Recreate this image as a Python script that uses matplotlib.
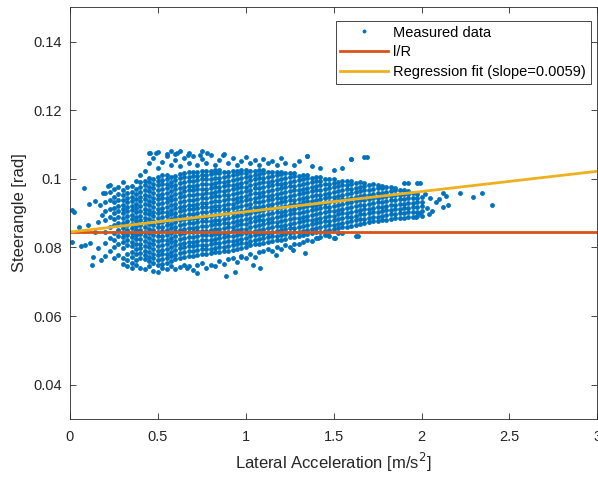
import numpy as np
import matplotlib.pyplot as plt

plt.rcParams['font.family'] = ['Liberation Sans', 'DejaVu Sans']

# measured data, read off the picture as columns: x position and the y values
# found in that column (units of 1e-4 rad)
col_x = [0.200, 0.225, 0.250, 0.275, 0.300, 0.325, 0.350, 0.375, 0.400, 0.425,
         0.450, 0.475, 0.500, 0.525, 0.550, 0.575, 0.600, 0.625, 0.650, 0.675,
         0.700, 0.725, 0.750, 0.775, 0.800, 0.825, 0.850, 0.875, 0.900, 0.925,
         0.950, 0.975, 1.000, 1.025, 1.050, 1.075, 1.100, 1.125, 1.150, 1.175,
         1.200, 1.225, 1.250, 1.275, 1.300, 1.325, 1.350, 1.375, 1.400, 1.425,
         1.450, 1.475, 1.500, 1.525, 1.550, 1.575, 1.600, 1.625, 1.650, 1.675,
         1.700, 1.725, 1.750, 1.775, 1.800, 1.825, 1.850, 1.875, 1.900, 1.925,
         1.950, 1.975, 2.000]
col_y = [
    "776 812 845 880 905 932 958",
    "790 828 861 889 912 937 962 981",
    "768 801 823 841 866 884 899 916 931 947 970",
    "779 810 832 852 871 890 905 921 938 955 975",
    "752 770 798 815 829 842 858 871 886 899 912 925 938 952 966 990",
    "745 763 782 806 822 836 850 864 878 892 905 918 931 944 958 975",
    "740 756 772 788 804 817 830 843 856 869 882 895 908 921 934 947 962 980",
    "748 764 780 796 811 824 837 850 863 876 889 902 915 928 941 955 970 993",
    "741 770 784 797 811 825 838 852 866 879 893 906 920 934 947 961 975 990 1011",
    "736 765 778 791 805 818 832 845 859 873 886 900 913 927 940 954 968 981 995 1024",
    "745 760 773 787 800 814 828 841 855 868 882 896 909 923 936 950 963 977 990 1002 1046 1075",
    "731 756 769 782 796 810 823 837 850 864 877 891 904 918 932 945 959 972 986 1000 1061",
    "728 750 764 777 791 804 818 832 845 859 872 886 899 913 927 940 954 967 981 994 1006 1031 1078",
    "741 753 766 780 793 807 821 834 848 861 875 888 902 916 929 943 956 970 984 997 1010 1050",
    "736 755 769 782 796 809 823 837 850 864 877 891 904 918 932 945 959 972 986 999 1011 1071",
    "745 761 774 788 801 815 828 842 856 869 883 896 910 923 937 951 964 978 991 1004 1041 1081",
    "738 766 779 793 806 820 833 847 861 874 888 901 915 928 942 956 969 983 996 1009 1056 1072",
    "742 770 784 797 811 824 838 852 865 879 892 906 919 933 947 960 974 987 1001 1014 1036",
    "750 773 787 800 814 827 841 855 868 882 895 909 922 936 950 963 977 990 1004 1017 1061",
    "745 776 789 803 816 830 844 857 871 884 898 911 925 939 952 966 979 993 1006 1019 1046 1076",
    "735 776 790 803 817 830 844 858 871 885 898 912 925 939 953 966 980 993 1007 1020 1066",
    "748 779 792 806 819 833 847 860 874 887 901 914 928 942 955 969 982 996 1009 1021 1041",
    "755 781 794 808 822 835 849 862 876 889 903 917 930 944 957 971 984 998 1011 1022 1059 1080",
    "740 781 795 808 822 835 849 863 876 890 903 917 930 944 958 971 985 998 1012 1024 1046",
    "750 783 796 810 823 837 851 864 878 891 905 918 932 946 959 973 986 1000 1013 1024 1068",
    "745 786 799 813 826 840 854 867 881 894 908 921 935 949 962 976 989 1003 1016 1025 1041",
    "760 786 800 813 827 840 854 868 881 895 908 922 935 949 963 976 990 1003 1017 1025 1056",
    "752 789 802 816 829 843 857 870 884 897 911 924 938 952 965 979 992 1006 1019 1071",
    "765 791 804 818 832 845 859 872 886 899 913 927 940 954 967 981 994 1008 1021 1046",
    "770 793 806 820 833 847 861 874 888 901 915 928 942 956 969 983 996 1010 1023 1061",
    "758 796 809 823 836 850 864 877 891 904 918 931 945 959 972 986 999 1013 1024 1041",
    "775 799 812 826 839 853 867 880 894 907 921 934 948 962 975 989 1002 1016 1025 1051",
    "770 801 814 828 842 855 869 882 896 909 923 937 950 964 977 991 1004 1018 1025 1063",
    "781 806 819 833 846 860 873 887 901 914 928 941 955 968 982 996 1009 1023 1046",
    "772 809 822 836 849 863 877 890 904 917 931 944 958 972 985 999 1012 1024 1056",
    "786 811 824 838 852 865 879 892 906 919 933 947 960 974 987 1001 1014 1025 1041",
    "791 813 827 840 854 867 881 895 908 922 935 949 962 976 990 1003 1017 1025 1059",
    "796 816 829 843 856 870 884 897 911 924 938 951 965 979 992 1006 1020 1046",
    "789 819 832 846 859 873 887 900 914 927 941 954 968 982 995 1009 1021 1051",
    "801 821 834 848 862 875 889 902 916 929 943 957 970 984 997 1011 1020 1041",
    "796 823 836 850 863 877 891 904 918 931 945 958 972 986 999 1013 1020 1061",
    "806 826 839 853 866 880 894 907 921 934 948 961 975 989 1002 1016 1046",
    "801 829 842 856 869 883 897 910 924 937 951 964 978 992 1005 1017",
    "811 831 844 858 871 885 899 912 926 939 953 966 980 994 1007 1016 1041",
    "809 833 846 860 873 887 901 914 928 941 955 968 982 996 1009 1053",
    "816 836 849 863 876 890 904 917 931 944 958 971 985 999 1011",
    "821 839 852 866 879 893 907 920 934 947 961 974 988 1001 1010 1067",
    "819 841 854 868 881 895 909 922 936 949 963 976 990 1003 1036",
    "828 844 857 871 884 898 912 925 939 952 966 979 993 1006",
    "831 846 859 873 886 900 914 927 941 954 968 981 995 1005 1031",
    "837 849 862 876 889 903 917 930 944 957 971 984 998",
    "834 851 864 878 891 905 919 932 946 959 973 986 1000",
    "828 853 866 880 893 907 921 934 948 961 975 988 1000 1026",
    "841 856 869 883 896 910 924 937 951 964 978 991",
    "843 859 872 886 899 913 927 940 954 967 981 995 1031",
    "861 874 888 901 915 929 942 956 969 983 995",
    "863 876 890 903 917 931 944 958 971 985 995 1057",
    "834 866 879 893 906 920 934 947 961 974 988",
    "869 882 896 909 923 937 950 964 977 990",
    "871 884 898 911 925 939 952 966 979 988 1063",
    "873 886 900 913 927 941 954 968 981",
    "876 889 903 916 930 944 957 971 984",
    "877 890 904 917 931 945 958 972 982",
    "879 892 906 919 933 947 960 974 980",
    "881 894 908 921 935 949 962 976",
    "883 896 910 923 937 951 964 975",
    "885 898 912 925 939 953 966 972",
    "886 899 913 926 940 954 967",
    "887 900 914 927 941 955 968 988",
    "889 902 916 929 943 957 965",
    "890 903 917 930 944 958",
    "891 904 918 931 945 955 988",
    "893 906 920 933 947",
]

# scattered single points outside the dense cloud
extra_x = [0.01, 0.01, 0.024, 0.05, 0.062, 0.08, 0.085, 0.10, 0.11, 0.114,
           0.125, 0.13, 0.14, 0.145, 0.157, 0.16, 0.17, 0.174, 0.185, 0.19,
           0.216,
           0.455, 0.49, 0.55, 0.606, 0.625, 0.672, 0.74, 0.777, 0.87,
           0.663, 0.72, 0.89, 0.94, 1.04, 1.08, 0.975, 1.17, 1.27, 1.335,
           1.35, 1.6, 1.69, 1.41, 1.47, 1.51, 1.64,
           1.92, 1.97, 1.99, 1.99, 2.02, 2.03, 2.04, 2.05, 2.06, 2.08, 2.10,
           2.12, 2.12, 2.14, 2.15, 2.216, 2.29, 2.345, 2.40]
extra_y = [0.0910, 0.0815, 0.0904, 0.0860, 0.0804, 0.0972, 0.0807, 0.0865, 0.0926, 0.0813,
           0.0750, 0.0772, 0.0935, 0.0845, 0.0874, 0.0798, 0.0925, 0.0763, 0.0895, 0.0958,
           0.0980,
           0.1075, 0.1075, 0.1066, 0.1074, 0.1081, 0.1069, 0.1069, 0.1074, 0.1069,
           0.0739, 0.0725, 0.0717, 0.0729, 0.0749, 0.0740, 0.0773, 0.0778, 0.0792, 0.0784,
           0.1067, 0.1057, 0.1063, 0.0827, 0.0836, 0.0827, 0.0833,
           0.0988, 0.0889, 0.0900, 0.0988, 0.0955, 0.0915, 0.0898, 0.0945, 0.0905, 0.0933, 0.0940,
           0.0958, 0.0918, 0.0950, 0.0923, 0.0958, 0.0946, 0.0959, 0.0923]

ir_value = 0.0845        # l/R steer angle
fit_intercept = 0.0845
fit_slope = 0.0059
x_line = np.array([0.0, 3.0])

# collect the measured points
mx = []
my = []
for x, ys in zip(col_x, col_y):
    for v in ys.split():
        mx.append(x)
        my.append(int(v) * 1e-4)
mx = np.array(mx + extra_x)
my = np.array(my + extra_y)

blue = '#0072BD'
red = '#D95319'
yellow = '#EDB120'
dark = '#262626'

fig = plt.figure(figsize=(5.98, 4.8), dpi=100)
ax = fig.add_axes([0.117, 0.127, 0.882, 0.858])

ax.plot(mx, my, 'o', color=blue, markersize=3.5, markeredgewidth=0,
        label='Measured data')
ax.plot(x_line, np.full_like(x_line, ir_value), color=red, linewidth=2,
        label='l/R')
ax.plot(x_line, fit_intercept + fit_slope * x_line, color=yellow, linewidth=2,
        label='Regression fit (slope=0.0059)')

ax.set_xlim(0, 3)
ax.set_ylim(0.03, 0.15)
ax.set_xticks([0, 0.5, 1, 1.5, 2, 2.5, 3])
ax.set_xticklabels(['0', '0.5', '1', '1.5', '2', '2.5', '3'])
ax.set_yticks([0.04, 0.06, 0.08, 0.1, 0.12, 0.14])
ax.set_yticklabels(['0.04', '0.06', '0.08', '0.1', '0.12', '0.14'])
ax.tick_params(direction='in', top=True, right=True, length=4, width=0.6,
               color=dark, labelcolor=dark, labelsize=10.5)
ax.tick_params(axis='x', pad=8)
ax.tick_params(axis='y', pad=6)
for s in ax.spines.values():
    s.set_color(dark)
    s.set_linewidth(0.6)

ax.set_xlabel('Lateral Acceleration [m/s$^2$]', fontsize=12, color=dark,
              labelpad=5)
ax.set_ylabel('Steerangle [rad]', fontsize=12, color=dark)

leg = ax.legend(loc='upper right', bbox_to_anchor=(0.987, 0.966),
                borderaxespad=0, fontsize=10.5, fancybox=False,
                edgecolor=dark, framealpha=1, handlelength=3.3,
                borderpad=0.3, labelspacing=0.4, handletextpad=0.35,
                markerscale=0.8)
leg.get_frame().set_linewidth(0.6)

fig.savefig('out.png', dpi=100)
